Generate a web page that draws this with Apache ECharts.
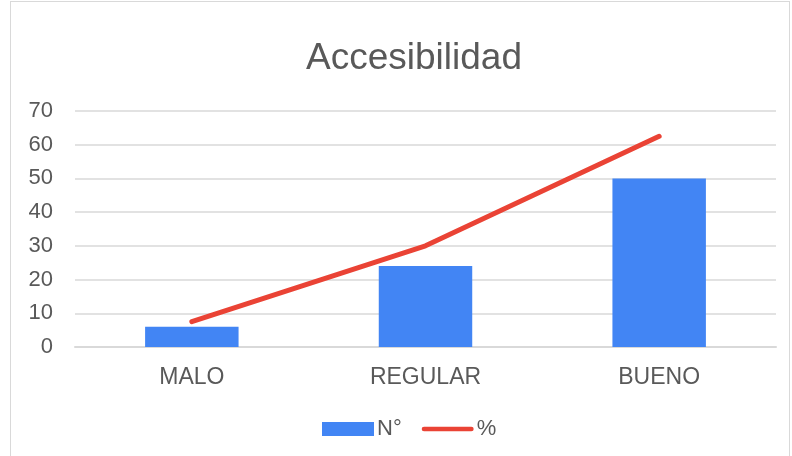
<!DOCTYPE html>
<html>
<head>
<meta charset="utf-8">
<script src="https://cdn.jsdelivr.net/npm/echarts@6/dist/echarts.min.js"></script>
<style>
  html, body { margin: 0; padding: 0; background: #fff; }
  #wrap { position: absolute; left: 10px; top: 1px; width: 780px; height: 460px; border: 1px solid #d9d9d9; box-sizing: border-box; }
  #main { position: absolute; left: 0; top: 0; width: 792px; height: 456px; }
</style>
</head>
<body>
<div id="wrap"></div>
<div id="main"></div>
<script>
  var categories = ['MALO', 'REGULAR', 'BUENO'];
  var countValues = [6, 24, 50];
  var pctValues = [7.5, 30, 62.5];
  var yTicks = { min: 0, max: 70, interval: 10 };

  var chart = echarts.init(document.getElementById('main'), null, { renderer: 'canvas' });
  var textColor = '#595959';
  var font = '"Liberation Sans", Arial, sans-serif';
  var option = {
    animation: false,
    textStyle: { fontFamily: font },
    title: {
      text: 'Accesibilidad',
      left: 409,
      top: 35,
      textAlign: 'center',
      textStyle: { fontSize: 37, fontWeight: 'normal', color: textColor, fontFamily: font }
    },
    legend: {
      top: 413,
      left: 317,
      itemWidth: 52,
      itemHeight: 14,
      itemGap: 20,
      symbolKeepAspect: true,
      textStyle: { fontSize: 22, color: textColor, fontFamily: font, padding: [0, 0, 0, -2] },
      data: [
        { name: 'N°', icon: 'rect' },
        { name: '%', icon: 'path://M2.5,0 L53.5,0 A2.5,2.5 0 0 1 53.5,5 L2.5,5 A2.5,2.5 0 0 1 2.5,0 Z' }
      ]
    },
    grid: { left: 75, right: 16, top: 111, bottom: 109 },
    xAxis: {
      type: 'category',
      data: categories,
      axisLine: { lineStyle: { color: '#d9d9d9', width: 2 } },
      axisTick: { show: false },
      axisLabel: { fontSize: 23, color: textColor, margin: 19 }
    },
    yAxis: {
      type: 'value',
      min: yTicks.min,
      max: yTicks.max,
      interval: yTicks.interval,
      axisLine: { show: false },
      axisTick: { show: false },
      axisLabel: { fontSize: 22, color: textColor, margin: 22 },
      splitLine: { lineStyle: { color: '#d9d9d9', width: 1.5 } }
    },
    series: [
      {
        name: 'N°',
        type: 'bar',
        data: countValues,
        barWidth: '40%',
        itemStyle: { color: '#4285F4' }
      },
      {
        name: '%',
        type: 'line',
        data: pctValues,
        symbol: 'none',
        lineStyle: { color: '#EA4335', width: 5, cap: 'round' },
        itemStyle: { color: '#EA4335' }
      }
    ]
  };
  chart.setOption(option);
</script>
</body>
</html>
